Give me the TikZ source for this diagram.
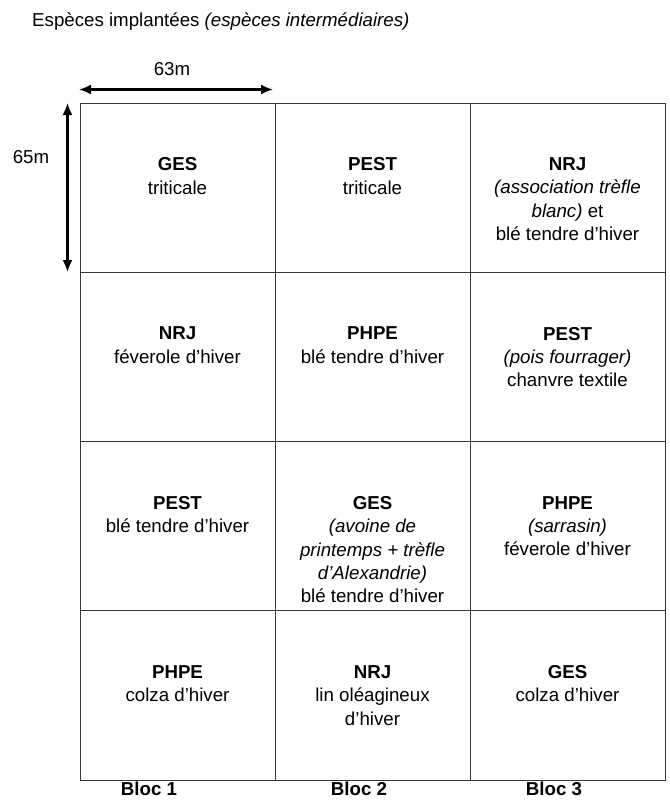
\documentclass[tikz,border=0pt]{standalone}
\usepackage{fontspec}
\setmainfont{Liberation Sans}
\usepackage{xcolor}
\definecolor{Col1}{RGB}{55,55,55}
\usepackage{tikz}
\usetikzlibrary{arrows.meta}
\tikzstyle{Cell}=[draw=Col1,line width=1pt,minimum width=195pt,
minimum height=169.25pt,inner sep=0pt]
\tikzstyle{Plot}=[anchor=north,align=center,inner sep=0pt,
execute at begin node=\rule{0pt}{14pt},
font=\fontsize{18.7}{23.4}\selectfont]
\tikzstyle{Txt}=[anchor=base,inner sep=0pt,font=\fontsize{18.7}{23.4}\selectfont]
\tikzstyle{Dim}=[{Latex[length=12pt,width=10pt]}-{Latex[length=12pt,width=10pt]},
line width=2.2pt]

\begin{document}
\begin{tikzpicture}[x=1pt,y=-1pt]
        \useasboundingbox (0,0) rectangle (669,800);
        \node[Txt,anchor=base west](title)at(32,27){Espèces implantées \textit{(espèces intermédiaires)}};
        % grid of plots
        \node[Cell](11)at(177.5,187.625){};
        \node[Cell](12)at(372.5,187.625){};
        \node[Cell](13)at(567.5,187.625){};
        \node[Cell](21)at(177.5,356.875){};
        \node[Cell](22)at(372.5,356.875){};
        \node[Cell](23)at(567.5,356.875){};
        \node[Cell](31)at(177.5,526.125){};
        \node[Cell](32)at(372.5,526.125){};
        \node[Cell](33)at(567.5,526.125){};
        \node[Cell](41)at(177.5,695.375){};
        \node[Cell](42)at(372.5,695.375){};
        \node[Cell](43)at(567.5,695.375){};
        \node[Plot](t11)at([yshift=-55pt]11.north){\textbf{GES}\\triticale};
        \node[Plot](t12)at([yshift=-55pt]12.north){\textbf{PEST}\\triticale};
        \node[Plot](t13)at([yshift=-55pt]13.north){\textbf{NRJ}\\\textit{(association trèfle}\\\textit{blanc)} et\\blé tendre d’hiver};
        \node[Plot](t21)at([yshift=-55pt]21.north){\textbf{NRJ}\\féverole d’hiver};
        \node[Plot](t22)at([yshift=-55pt]22.north){\textbf{PHPE}\\blé tendre d’hiver};
        \node[Plot](t23)at([yshift=-55pt]23.north){\textbf{PEST}\\\textit{(pois fourrager)}\\chanvre textile};
        \node[Plot](t31)at([yshift=-55pt]31.north){\textbf{PEST}\\blé tendre d’hiver};
        \node[Plot](t32)at([yshift=-55pt]32.north){\textbf{GES}\\\textit{(avoine de}\\\textit{printemps + trèfle}\\\textit{d’Alexandrie)}\\blé tendre d’hiver};
        \node[Plot](t33)at([yshift=-55pt]33.north){\textbf{PHPE}\\\textit{(sarrasin)}\\féverole d’hiver};
        \node[Plot](t41)at([yshift=-55pt]41.north){\textbf{PHPE}\\colza d’hiver};
        \node[Plot](t42)at([yshift=-55pt]42.north){\textbf{NRJ}\\lin oléagineux\\d’hiver};
        \node[Plot](t43)at([yshift=-55pt]43.north){\textbf{GES}\\colza d’hiver};
        % blocs
        \node[Txt](b1)at(149,795.5){\textbf{Bloc 1}};
        \node[Txt](b2)at(359,795.5){\textbf{Bloc 2}};
        \node[Txt](b3)at(554,795.5){\textbf{Bloc 3}};
        % dimensions
        \coordinate(w0)at(79,89.5);
        \coordinate(w1)at(273,89.5);
        \coordinate(h0)at(67.5,103);
        \coordinate(h1)at(67.5,272);
        \draw[Dim](w0)--(w1);
        \draw[Dim](h0)--(h1);
        \node[Txt](w)at(172,75){63m};
        \node[Txt](h)at(31,163){65m};
    \end{tikzpicture}
\end{document}
